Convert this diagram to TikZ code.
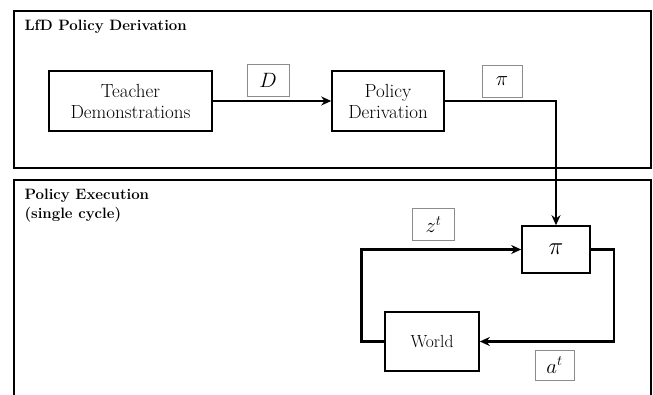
\documentclass[tikz,border=0pt]{standalone}
\usepackage{tikz}
\usetikzlibrary{calc, arrows, positioning}
\usetikzlibrary{arrows.meta}

\tikzset{
  frame/.style={line width=1.6pt},
  blockbox/.style={draw, line width=1.6pt, align=center, font=\fontsize{19}{21}\selectfont},
  lblbox/.style={draw=black!45, line width=0.8pt, minimum width=42pt, minimum height=32pt, font=\fontsize{20}{22}\selectfont},
  flow/.style={line width=2.6pt, -{Stealth[length=10pt,width=9pt]}},
  title/.style={font=\fontsize{15}{19}\selectfont\bfseries, align=left}
}

\begin{document}
\begin{tikzpicture}[x=1pt, y=-1pt]
\newcommand{\LoopGap}{23}
\useasboundingbox (0,0) rectangle (653,395);

% outer frames
\draw[frame] (14,11) rectangle (651,168);
\draw[frame] (14,395) -- (14,180) -- (651,180) -- (651,395);
\node[title, anchor=west] (toptitle) at (21,27) {LfD Policy Derivation};
\node[title, anchor=north west] (bottitle) at (21,186) {Policy Execution\\(single cycle)};

% derivation
\node[blockbox, minimum width=163pt, minimum height=60pt] (teacher) at (130.5,101) {Teacher\\Demonstrations};
\node[blockbox, minimum width=112pt, minimum height=60pt] (derive) at (388,101) {Policy\\Derivation};
\node[lblbox] (dlab) at (268,80) {$D$};
\node[lblbox, minimum width=40pt] (pilab) at (502,81) {$\pi$};

% execution
\node[blockbox, minimum width=68pt, minimum height=47pt, font=\fontsize{24}{26}\selectfont] (pol) at (556,249.5) {$\pi$};
\node[blockbox, minimum width=94pt, minimum height=59pt, font=\fontsize{17.5}{20}\selectfont] (world) at (432,341.5) {World};
\node[lblbox] (zlab) at (433.5,224.5) {$z^{t}$};
\node[lblbox, minimum width=39pt, minimum height=30pt] (alab) at (554.5,365) {$a^{t}$};

% connectors
\draw[flow] (teacher.east) -- (derive.west);
\draw[flow] (derive.east) -| (pol.north);
\draw[flow] (world.west) -- ++(-\LoopGap,0) |- (pol.west);
\draw[flow] (pol.east) -- ++(\LoopGap,0) |- (world.east);
\end{tikzpicture}
\end{document}
